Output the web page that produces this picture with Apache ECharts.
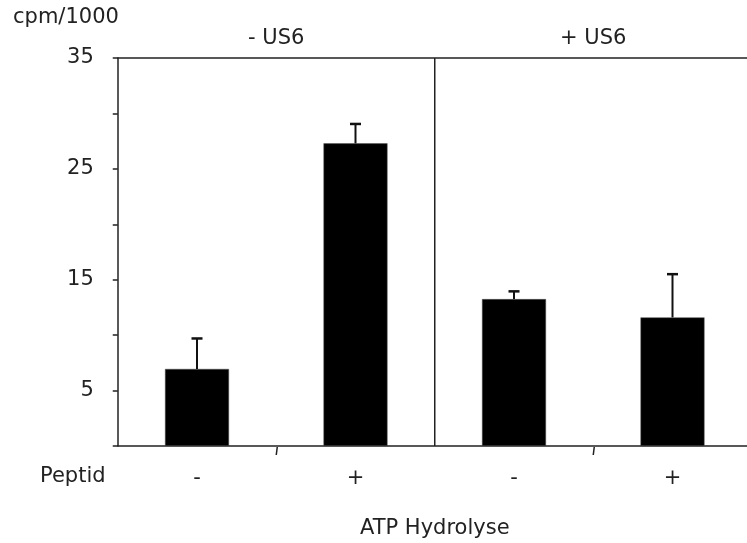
<!DOCTYPE html>
<html>
<head>
<meta charset="utf-8">
<script src="https://cdn.jsdelivr.net/npm/echarts@6/dist/echarts.min.js"></script>
<style>html,body{margin:0;padding:0;background:#fff}#c{width:747px;height:543px}</style>
</head>
<body>
<div id="c"></div>
<script>
var groups = ['- US6', '+ US6'];
var peptid = ['-', '+', '-', '+'];
var values = [6.95, 27.3, 13.25, 11.6];
var errHigh = [9.7, 29.05, 13.95, 15.5];
var yLabels = [5, 15, 25, 35];

var FONT = 'DejaVu Sans';
var chart = echarts.init(document.getElementById('c'), null, {renderer: 'canvas'});
var errData = values.map(function (v, i) { return [i, v, errHigh[i]]; });
var groupData = groups.map(function (g, i) { return [i * 2]; });

chart.setOption({
  animation: false,
  backgroundColor: '#fff',
  grid: {left: 117.75, top: 58, width: 634, bottom: 97, containLabel: false, outerBoundsMode: 'none'},
  graphic: [
    {type: 'text', left: 13, top: 7, style: {text: 'cpm/1000', font: '21px "' + FONT + '"', fill: '#222'}},
    {type: 'text', left: 40, top: 466, style: {text: 'Peptid', font: '21px "' + FONT + '"', fill: '#222'}}
  ],
  xAxis: [
    {
      type: 'category', data: peptid, position: 'bottom', boundaryGap: true,
      axisLine: {lineStyle: {color: '#222', width: 1.5}},
      axisTick: {show: false},
      axisLabel: {fontFamily: FONT, fontSize: 21, color: '#222', margin: 22, interval: 0},
      name: 'ATP Hydrolyse', nameLocation: 'middle', nameGap: 72,
      nameTextStyle: {fontFamily: FONT, fontSize: 21, color: '#222'},
      splitLine: {show: false}
    },
    {
      type: 'category', data: groups, position: 'top', boundaryGap: true,
      axisLine: {lineStyle: {color: '#222', width: 1.5}},
      axisTick: {show: false},
      axisLabel: {fontFamily: FONT, fontSize: 21, color: '#222', margin: 9, interval: 0},
      splitLine: {show: false}
    }
  ],
  yAxis: {
    type: 'value', min: 0, max: 35, interval: 5,
    axisLine: {show: true, lineStyle: {color: '#222', width: 1.5}},
    axisTick: {show: true, length: 5, lineStyle: {color: '#222', width: 1.5}},
    axisLabel: {fontFamily: FONT, fontSize: 21, color: '#222', margin: 24,
      formatter: function (v) { return yLabels.indexOf(v) >= 0 ? String(v) : ''; }},
    splitLine: {show: false}
  },
  series: [
    {
      type: 'bar', xAxisIndex: 0, data: values, barWidth: 64,
      itemStyle: {color: '#000', borderColor: '#555', borderWidth: 0.5}
    },
    {
      type: 'custom', xAxisIndex: 0, data: errData, z: 3,
      encode: {x: 0, y: [1, 2]},
      renderItem: function (params, api) {
        var x = api.value(0);
        var lo = api.coord([x, api.value(1)]);
        var hi = api.coord([x, api.value(2)]);
        var hw = 5.5;
        return {
          type: 'group',
          children: [
            {type: 'line', shape: {x1: lo[0], y1: lo[1], x2: hi[0], y2: hi[1]},
              style: {stroke: '#111', lineWidth: 2}},
            {type: 'line', shape: {x1: hi[0] - hw, y1: hi[1], x2: hi[0] + hw, y2: hi[1]},
              style: {stroke: '#111', lineWidth: 2.5}}
          ]
        };
      }
    },
    {
      // group tick marks and the divider between groups, placed from the axis scale
      type: 'custom', xAxisIndex: 0, data: groupData, z: 4, silent: true,
      encode: {x: 0},
      renderItem: function (params, api) {
        var k = api.value(0);
        var band = api.size([1, 0])[0];
        var c0 = api.coord([k, 0]);
        var top = api.coord([k, 35]);
        var mid = c0[0] + band / 2;
        var children = [
          {type: 'line', shape: {x1: mid + 1, y1: c0[1] + 1, x2: mid, y2: c0[1] + 9},
            style: {stroke: '#222', lineWidth: 1.5}}
        ];
        if (k > 0) {
          var bx = c0[0] - band / 2;
          children.push({type: 'line', shape: {x1: bx, y1: top[1], x2: bx, y2: c0[1]},
            style: {stroke: '#222', lineWidth: 1.5}});
        }
        return {type: 'group', children: children};
      }
    }
  ]
});
</script>
</body>
</html>
